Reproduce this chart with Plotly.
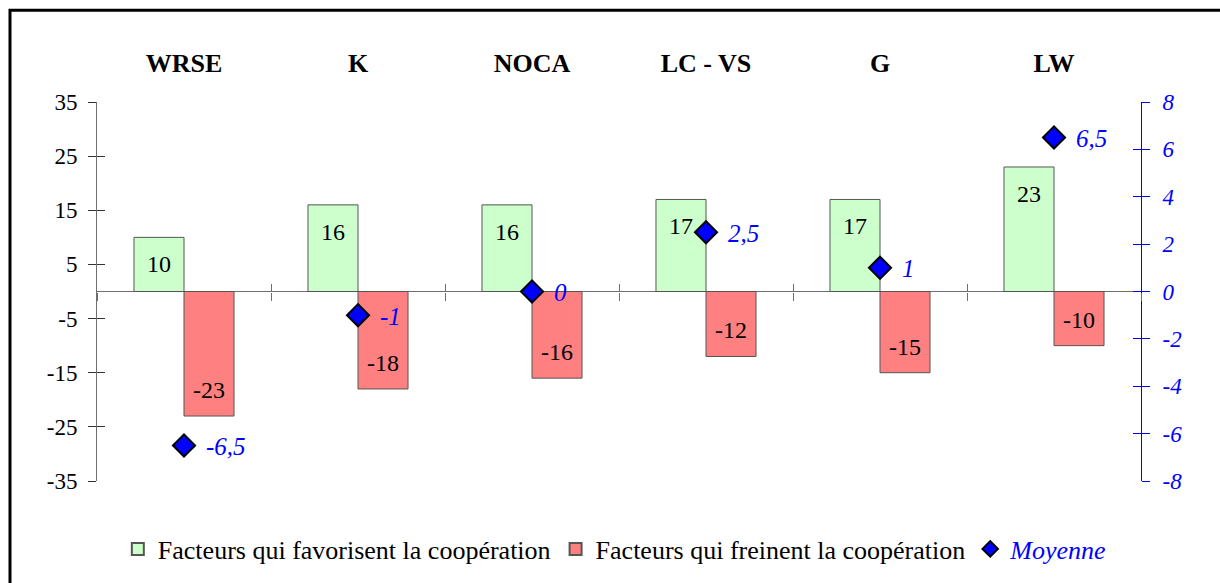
import plotly.graph_objects as go

# Data
categories = ["WRSE", "K", "NOCA", "LC - VS", "G", "LW"]
favorisent = [10, 16, 16, 17, 17, 23]
freinent = [-23, -18, -16, -12, -15, -10]
moyenne = [-6.5, -1, 0, 2.5, 1, 6.5]

left_ticks = [-35, -25, -15, -5, 5, 15, 25, 35]
right_ticks = [-8, -6, -4, -2, 0, 2, 4, 6, 8]

SERIF = "Liberation Serif"
BLUE = "#0000FF"
AXIS_GREY = "#6E6E6E"


def fr_number(v):
    return f"{v:g}".replace(".", ",")


W, H = 1220, 583
L, R, T, B = 97, 79, 102, 101
plot_w = W - L - R
plot_h = H - T - B


def px_to_paper_x(px):
    return (px - L) / plot_w


def px_to_paper_y(py):
    return (H - B - py) / plot_h


fig = go.Figure()

fig.add_trace(go.Bar(
    x=categories, y=favorisent,
    name="Facteurs qui favorisent la coopération",
    marker=dict(color="#CCFFCC", line=dict(color="#555555", width=1)),
    hoverinfo="x+y",
))
fig.add_trace(go.Bar(
    x=categories, y=freinent,
    name="Facteurs qui freinent la coopération",
    marker=dict(color="#FF8080", line=dict(color="#555555", width=1)),
    hoverinfo="x+y",
))
fig.add_trace(go.Scatter(
    x=categories, y=moyenne, yaxis="y2",
    mode="markers",
    name=f"<span style='color:{BLUE}'><i>Moyenne</i></span>",
    marker=dict(symbol="diamond", size=17, color=BLUE,
                line=dict(color="#000000", width=2)),
    hoverinfo="x+y",
))

# carrier traces so the overlay axes (crossing tick marks) get drawn
for xa, ya, yv in [("x", "y3", favorisent), ("x", "y4", moyenne),
                   ("x2", "y", favorisent), ("x3", "y", favorisent)]:
    fig.add_trace(go.Scatter(x=categories, y=yv, xaxis=xa, yaxis=ya,
                             mode="none", showlegend=False, hoverinfo="skip"))

annotations = []
# value labels inside the bars, near their outer end
for cat, v in zip(categories, favorisent):
    annotations.append(dict(x=cat, y=v, xref="x", yref="y", text=str(v),
                            showarrow=False, xshift=-25, yshift=-27,
                            font=dict(family=SERIF, size=24, color="black")))
for cat, v in zip(categories, freinent):
    annotations.append(dict(x=cat, y=v, xref="x", yref="y", text=str(v),
                            showarrow=False, xshift=25, yshift=26,
                            font=dict(family=SERIF, size=24, color="black")))
# labels of the averages, right of the diamonds
for cat, v in zip(categories, moyenne):
    annotations.append(dict(x=cat, y=v, xref="x", yref="y2", text=fr_number(v),
                            showarrow=False, xanchor="left", xshift=20, yshift=-1,
                            font=dict(family=SERIF, size=25, color=BLUE, style="italic")))

boundary_axis = dict(overlaying="x", anchor="free", position=0.5, type="category",
                     categoryorder="array", categoryarray=categories,
                     range=[-0.5, len(categories) - 0.5],
                     tickson="boundaries", ticklen=8, tickcolor=AXIS_GREY,
                     showticklabels=False, showline=False, showgrid=False,
                     zeroline=False)

fig.update_layout(
    width=W, height=H,
    margin=dict(l=L, r=R, t=T, b=B, pad=0),
    paper_bgcolor="white", plot_bgcolor="white",
    font=dict(family=SERIF, size=23, color="black"),
    barmode="group", bargap=0.425, bargroupgap=0,
    showlegend=True,
    legend=dict(orientation="h", x=0.496, xanchor="center",
                y=px_to_paper_y(549), yanchor="middle",
                font=dict(family=SERIF, size=26, color="black"),
                itemsizing="constant", tracegroupgap=0,
                bgcolor="rgba(0,0,0,0)"),
    xaxis=dict(type="category", side="top", showline=False, showgrid=False,
               zeroline=False, ticks="outside", ticklen=19,
               range=[-0.5, len(categories) - 0.5],
               tickcolor="rgba(0,0,0,0)",
               tickfont=dict(family=SERIF, size=26, color="black", weight="bold")),
    # category boundary ticks crossing the zero line
    xaxis2=dict(boundary_axis, ticks="outside"),
    xaxis3=dict(boundary_axis, ticks="inside"),
    yaxis=dict(range=[-35, 35], tickvals=left_ticks,
               ticktext=[str(v) for v in left_ticks],
               ticks="outside", ticklen=8,
               tickcolor="#333333", showline=True, linecolor=AXIS_GREY, linewidth=1,
               showgrid=False, zeroline=True, zerolinecolor=AXIS_GREY, zerolinewidth=1,
               ticklabelstandoff=6,
               tickfont=dict(family=SERIF, size=23, color="black")),
    yaxis3=dict(overlaying="y", side="left", anchor="x", range=[-35, 35],
                tickvals=left_ticks, ticks="inside", ticklen=8, tickcolor="#333333",
                showticklabels=False, showline=False, showgrid=False, zeroline=False),
    yaxis2=dict(overlaying="y", side="right", anchor="x", range=[-8, 8],
                tickvals=right_ticks, ticktext=[str(v) for v in right_ticks],
                ticks="outside", ticklen=8, tickcolor=BLUE, showline=True,
                linecolor=BLUE, linewidth=1, showgrid=False, zeroline=False,
                ticklabelstandoff=8,
                tickfont=dict(family=SERIF, size=23, color=BLUE, style="italic")),
    yaxis4=dict(overlaying="y", side="right", anchor="x", range=[-8, 8],
                tickvals=right_ticks, ticks="inside", ticklen=8, tickcolor=BLUE,
                showticklabels=False, showline=False, showgrid=False, zeroline=False),
    annotations=annotations,
    shapes=[dict(type="rect", xref="paper", yref="paper",
                 x0=px_to_paper_x(10), x1=px_to_paper_x(1240),
                 y0=px_to_paper_y(600), y1=px_to_paper_y(10),
                 line=dict(color="black", width=3), fillcolor="rgba(0,0,0,0)",
                 layer="above")],
)

fig.write_html("out.html")
